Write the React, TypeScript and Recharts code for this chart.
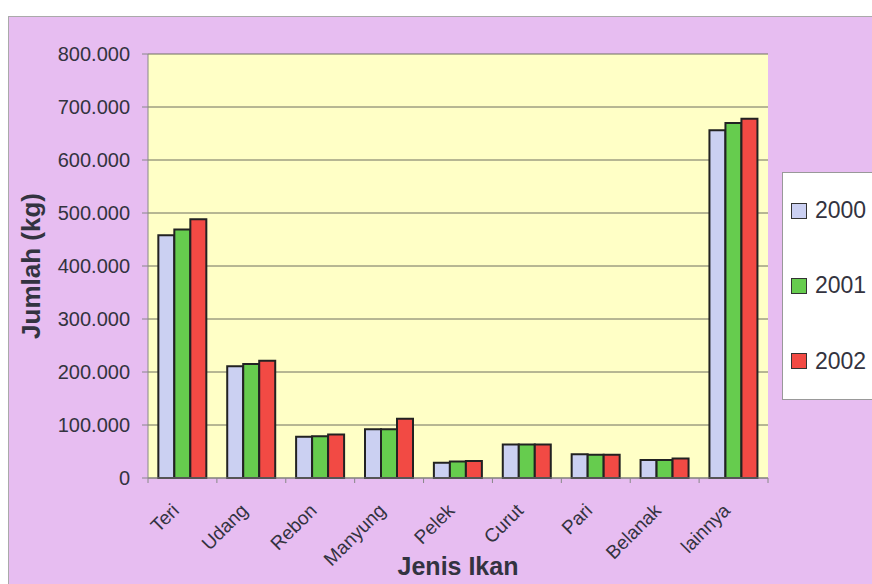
import { BarChart, Bar, XAxis, YAxis, CartesianGrid, Legend } from 'recharts'

const categories = ['Teri', 'Udang', 'Rebon', 'Manyung', 'Pelek', 'Curut', 'Pari', 'Belanak', 'lainnya']
const years = ['2000', '2001', '2002']
const values2000 = [458000, 211000, 78000, 92000, 29000, 63000, 45000, 34000, 656000]
const values2001 = [469000, 215000, 79000, 92000, 31000, 63000, 44000, 34000, 670000]
const values2002 = [488000, 221000, 82000, 112000, 32000, 63000, 44000, 37000, 678000]
const yTicks = [0, 100000, 200000, 300000, 400000, 500000, 600000, 700000, 800000]

const colors = ['#CBD0F2', '#66CC4E', '#F24A44']

const data = categories.map((name, i) => ({
  name,
  '2000': values2000[i],
  '2001': values2001[i],
  '2002': values2002[i],
}))

const W = 864
const H = 568
const MARGIN = { top: 38, right: 104, bottom: 0, left: 0 }
const Y_AXIS_W = 140
const X_AXIS_H = 106
const PLOT_W = W - MARGIN.right - MARGIN.left - Y_AXIS_W
const BAND = PLOT_W / categories.length
const FONT = '"Liberation Sans", Arial, sans-serif'
const TEXT = '#333340'

const fmt = (v: number) => String(v).replace(/\B(?=(\d{3})+(?!\d))/g, '.')

function CategoryTick({ x, y, payload, index }: any) {
  return (
    <g>
      {index === 0 && (
        <line x1={x - BAND / 2} x2={x - BAND / 2} y1={y} y2={y + 5} stroke="#888" />
      )}
      <line x1={x + BAND / 2} x2={x + BAND / 2} y1={y} y2={y + 5} stroke="#888" />
      <text
        transform={`translate(${x - 12},${y + 24}) rotate(-45)`}
        textAnchor="end"
        dy="0.72em"
        fontSize={19}
        fontFamily={FONT}
        fill={TEXT}
      >
        {payload.value}
      </text>
    </g>
  )
}

const renderYTitle = (props: any) => {
  const vb = props.viewBox
  const cx = vb.x + 23
  const cy = vb.y + vb.height / 2
  return (
    <text
      x={cx}
      y={cy}
      transform={`rotate(-90, ${cx}, ${cy})`}
      textAnchor="middle"
      dominantBaseline="central"
      fontSize={26}
      fontWeight="bold"
      fontFamily={FONT}
      fill={TEXT}
    >
      Jumlah (kg)
    </text>
  )
}

const renderXTitle = (props: any) => {
  const vb = props.viewBox
  return (
    <text
      x={vb.x + vb.width / 2}
      y={vb.y + 97}
      textAnchor="middle"
      fontSize={25}
      fontWeight="bold"
      fontFamily={FONT}
      fill={TEXT}
    >
      Jenis Ikan
    </text>
  )
}

const renderLegend = () => (
  <div
    style={{
      width: 110,
      height: 228,
      boxSizing: 'border-box',
      background: '#fff',
      border: '1px solid #999',
      borderRight: 'none',
      display: 'flex',
      flexDirection: 'column',
      justifyContent: 'space-around',
      paddingLeft: 8,
    }}
  >
    {years.map((y, i) => (
      <div key={y} style={{ display: 'flex', alignItems: 'center', gap: 8 }}>
        <span
          style={{
            width: 16,
            height: 16,
            boxSizing: 'border-box',
            background: colors[i],
            border: '1.5px solid #333',
          }}
        />
        <span style={{ fontSize: 23, fontFamily: FONT, color: TEXT, lineHeight: 1 }}>{y}</span>
      </div>
    ))}
  </div>
)

export default function App() {
  return (
    <div
      style={{
        position: 'fixed',
        left: 8,
        top: 16,
        width: W,
        height: H,
        boxSizing: 'border-box',
        background: '#E7BDF1',
        borderTop: '1px solid #aaa',
        borderLeft: '1px solid #aaa',
        overflow: 'hidden',
      }}
    >
      <BarChart
        width={W}
        height={H}
        data={data}
        margin={MARGIN}
        barCategoryGap="15%"
        barGap={0}
        style={{ position: 'absolute', left: -1, top: -1 }}
      >
        <CartesianGrid vertical={false} fill="#FFFFC6" stroke="#6f6f60" />
        <XAxis
          dataKey="name"
          height={X_AXIS_H}
          interval={0}
          tickLine={false}
          tickSize={0}
          tickMargin={0}
          axisLine={{ stroke: '#888' }}
          tick={<CategoryTick />}
          label={renderXTitle}
        />
        <YAxis
          width={Y_AXIS_W}
          domain={[0, 800000]}
          ticks={yTicks}
          interval={0}
          tickFormatter={fmt}
          tickSize={6}
          tickMargin={12}
          tickLine={{ stroke: '#888' }}
          axisLine={{ stroke: '#888' }}
          tick={{ fontSize: 20, fontFamily: FONT, fill: TEXT }}
          label={renderYTitle}
        />
        <Legend
          layout="vertical"
          align="center"
          verticalAlign="middle"
          content={renderLegend}
          wrapperStyle={{ left: 774, top: 156, width: 110, height: 228 }}
        />
        {years.map((y, i) => (
          <Bar
            key={y}
            dataKey={y}
            fill={colors[i]}
            stroke="#222"
            strokeWidth={2}
            isAnimationActive={false}
          />
        ))}
      </BarChart>
    </div>
  )
}
